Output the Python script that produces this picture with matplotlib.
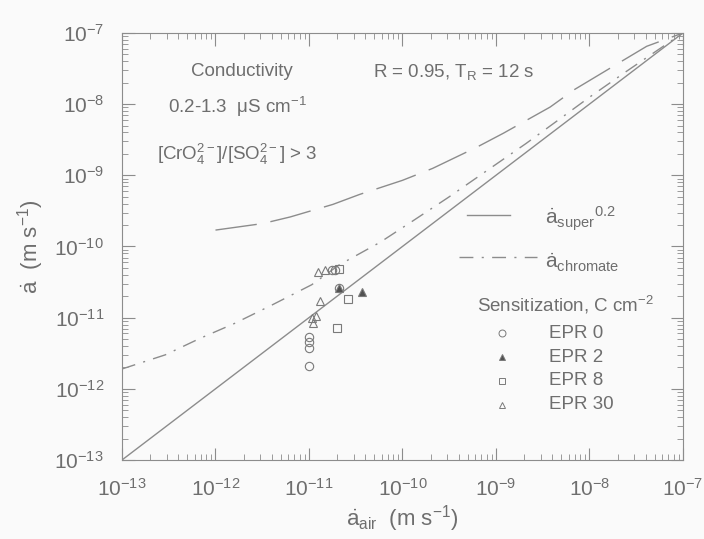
import matplotlib
matplotlib.use('Agg')
import matplotlib.pyplot as plt
from matplotlib.ticker import LogLocator, NullFormatter

plt.rcParams['font.family'] = ['Liberation Sans', 'DejaVu Sans']
plt.rcParams['mathtext.fontset'] = 'custom'
plt.rcParams['mathtext.rm'] = 'Liberation Sans'
plt.rcParams['mathtext.it'] = 'Liberation Sans'
plt.rcParams['mathtext.bf'] = 'Liberation Sans'

# Data
one_to_one = [1e-13, 1e-7]

super_x = [1.0e-12, 3.2e-12, 6.3e-12, 1.8e-11, 3.5e-11, 1.0e-10, 2.1e-10,
           6.3e-10, 1.2e-9, 3.8e-9, 6.9e-9, 2.0e-8, 4.1e-8, 1.0e-7]
super_y = [1.7e-10, 2.1e-10, 2.6e-10, 3.9e-10, 5.4e-10, 8.5e-10, 1.25e-9,
           2.5e-9, 3.9e-9, 9.1e-9, 1.6e-8, 3.7e-8, 6.5e-8, 1.0e-7]

chrom_x = [1e-13, 2.9e-13, 6.8e-13, 1.6e-12, 4.0e-12, 1.07e-11, 2.1e-11,
           5.8e-11, 1.3e-10, 3.1e-10, 7.9e-10, 2.1e-9, 4.5e-9, 1e-8, 2.5e-8, 1e-7]
chrom_y = [1.9e-12, 3.0e-12, 5.1e-12, 8.3e-12, 1.5e-11, 2.9e-11, 5.5e-11,
           1.15e-10, 2.3e-10, 4.9e-10, 1.15e-9, 2.8e-9, 5.8e-9, 1.25e-8, 2.9e-8, 1e-7]

epr0_x = [1.0e-11, 1.0e-11, 1.0e-11, 1.0e-11, 1.75e-11, 1.9e-11, 2.1e-11]
epr0_y = [5.4e-12, 4.6e-12, 3.8e-12, 2.1e-12, 4.6e-11, 4.7e-11, 2.6e-11]

epr2_x = [3.7e-11, 2.1e-11]
epr2_y = [2.3e-11, 2.6e-11]

epr8_x = [2.0e-11, 2.6e-11, 2.1e-11]
epr8_y = [7.1e-12, 1.8e-11, 4.8e-11]

epr30_x = [1.25e-11, 1.5e-11, 1.07e-11, 1.2e-11, 1.3e-11, 1.1e-11]
epr30_y = [4.4e-11, 4.7e-11, 1.0e-11, 1.05e-11, 1.7e-11, 8.5e-12]

tc = '#6e6e6e'   # text colour
lc = '#8c8c8c'   # line colour

fig = plt.figure(figsize=(7.04, 5.39), dpi=100, facecolor='#fafafa')
ax = fig.add_axes([0.1733, 0.1466, 0.7967, 0.7922])
ax.set_facecolor('#fafafa')

ax.plot(one_to_one, one_to_one, color=lc, lw=1.0)
ax.plot(super_x, super_y, color=lc, lw=1.0, dashes=(30, 10))
ax.plot(chrom_x, chrom_y, color=lc, lw=1.0, dashes=(10, 6, 1.5, 6))

mk = dict(ls='none', ms=6, mew=0.8, color='#7a7a7a')
ax.plot(epr0_x, epr0_y, marker='o', mfc='none', **mk)
ax.plot(epr2_x, epr2_y, marker='^', mfc='#505050', **mk)
ax.plot(epr8_x, epr8_y, marker='s', mfc='none', **mk)
ax.plot(epr30_x, epr30_y, marker='^', mfc='none', **mk)

ax.set_xscale('log')
ax.set_yscale('log')
ax.set_xlim(1e-13, 1e-7)
ax.set_ylim(1e-13, 1e-7)
for a in (ax.xaxis, ax.yaxis):
    a.set_major_locator(LogLocator(base=10, numticks=10))
    a.set_minor_locator(LogLocator(base=10, subs=range(2, 10), numticks=10))
    a.set_minor_formatter(NullFormatter())
ax.tick_params(which='both', direction='in', top=True, right=True,
               color=lc, labelcolor=tc, labelsize=15)
ax.tick_params(which='major', length=9, width=0.8, pad=13)
ax.tick_params(which='minor', length=4, width=0.6,
               labelbottom=False, labelleft=False)
for s in ax.spines.values():
    s.set_color(lc)
    s.set_linewidth(0.8)

ax.set_xlabel(r'$\dot{a}_{\rm air}$  (m s$^{-1}$)', color=tc, fontsize=16, labelpad=2)
ax.set_ylabel(r'$\dot{a}$  (m s$^{-1}$)', color=tc, fontsize=16, labelpad=6)

# annotations
ax.text(0.214, 0.909, 'Conductivity', transform=ax.transAxes, color=tc,
        fontsize=13.5, ha='center', va='center')
ax.text(0.205, 0.826, r'0.2-1.3  $\mu$S cm$^{-1}$', transform=ax.transAxes,
        color=tc, fontsize=13.5, ha='center', va='center')
ax.text(0.205, 0.715, r'[CrO$_4^{2-}$]/[SO$_4^{2-}$] > 3', transform=ax.transAxes,
        color=tc, fontsize=13.5, ha='center', va='center')
ax.text(0.447, 0.909, r'R = 0.95, T$_R$ = 12 s', transform=ax.transAxes,
        color=tc, fontsize=13.5, ha='left', va='center')

# line legend
ax.plot([0.615, 0.692], [0.574, 0.574], transform=ax.transAxes, color=lc, lw=1.0)
ax.plot([0.60, 0.74], [0.475, 0.475], transform=ax.transAxes, color=lc, lw=1.0,
        dashes=(10, 6, 1.5, 6))
ax.text(0.755, 0.565, r'$\dot{a}_{\rm super}$$^{0.2}$', transform=ax.transAxes,
        color=tc, fontsize=15, ha='left', va='center')
ax.text(0.755, 0.462, r'$\dot{a}_{\rm chromate}$', transform=ax.transAxes,
        color=tc, fontsize=15, ha='left', va='center')

# marker legend
ax.text(0.79, 0.363, r'Sensitization, C cm$^{-2}$', transform=ax.transAxes,
        color=tc, fontsize=13.5, ha='center', va='center')
labels = ['EPR 0', 'EPR 2', 'EPR 8', 'EPR 30']
markers = ['o', '^', 's', '^']
fills = ['none', '#505050', 'none', 'none']
for i, (lab, m, f) in enumerate(zip(labels, markers, fills)):
    yy = 0.297 - i * 0.056
    ax.plot([0.677], [yy], transform=ax.transAxes, marker=m, mfc=f, ls='none',
            ms=5, mew=0.7, color='#7a7a7a')
    ax.text(0.762, yy, lab, transform=ax.transAxes, color=tc, fontsize=13.5,
            ha='left', va='center')

fig.savefig('out.png', dpi=100, facecolor=fig.get_facecolor())
